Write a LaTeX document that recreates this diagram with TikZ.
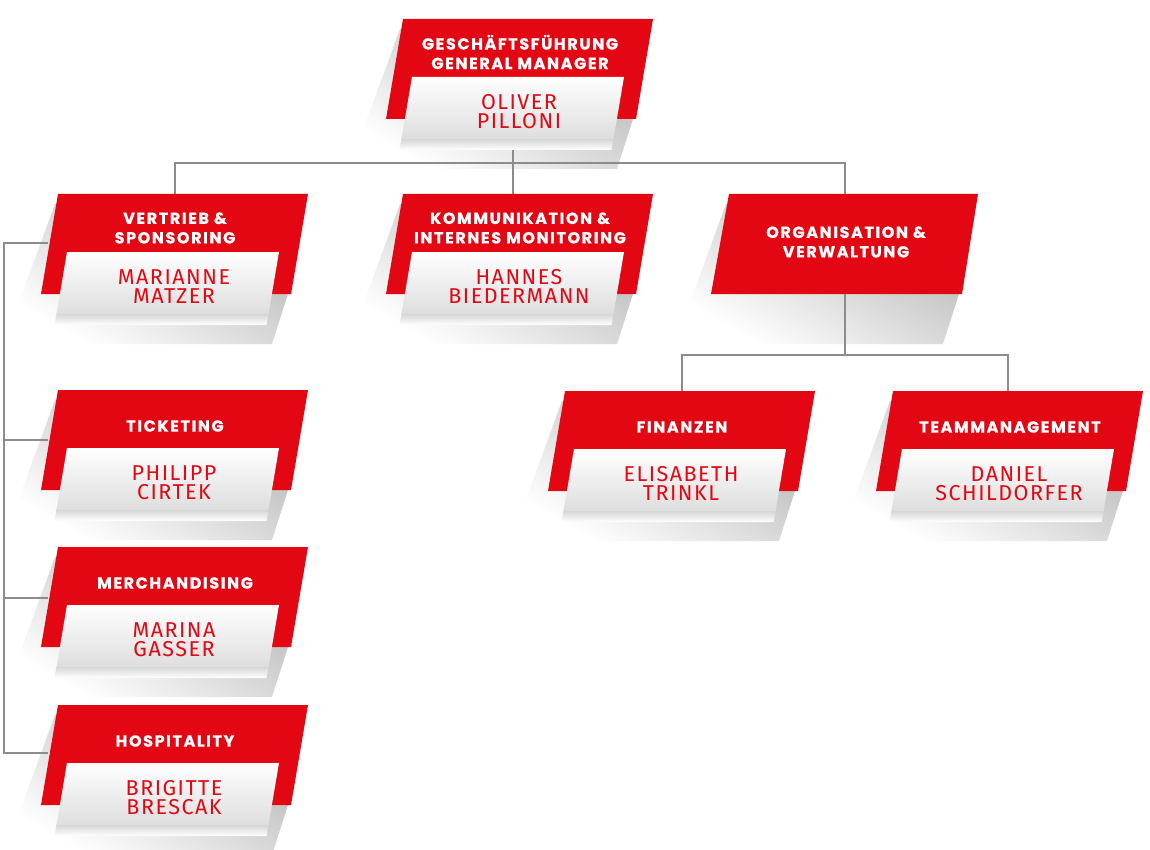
\documentclass[tikz,border=0pt]{standalone}
\usepackage{fontspec}
\setmainfont{Fira Sans}
\newfontfamily\headfont{Poppins}[LetterSpace=10, BoldFeatures={FakeBold=0.7}]
\newfontfamily\namefont{Fira Sans}[LetterSpace=7]
\usetikzlibrary{calc}
\pgfdeclarelayer{shadows}
\pgfdeclarelayer{lines}
\pgfsetlayers{shadows,lines,main}
\definecolor{ured}{HTML}{E30613}
\definecolor{uline}{HTML}{8C8C8C}
\tikzset{
  x=1pt, y=-1pt,
  headtext/.style={text=white, font=\headfont\bfseries\fontsize{16}{19.5}\selectfont, align=center, inner sep=0pt},
  nametext/.style={text=ured, font=\namefont\fontsize{21.5}{19.5}\selectfont, align=center, inner sep=0pt},
  conn/.style={draw=uline, line width=2.6pt},
  shadowfill/.style={top color=black!30, bottom color=white, shading angle=-30},
  whitefill/.style={top color=white, bottom color=black!13},
  undershadow/.style={top color=black!16, bottom color=white},
}
\newcommand\boxshadow{%
  \begin{pgfonlayer}{shadows}
    \shade[shadowfill] (-3,10) -- (-44,122) -- (-36,150) -- (214,150) -- (230,100) -- (240,8) -- cycle;
  \end{pgfonlayer}}
% #1 name, #2 x, #3 y, #4 header, #5 person, #6 header y
\newcommand\orgunit[6]{%
  \begin{scope}[shift={(#2,#3)}]
    \boxshadow
    \fill[ured] (0,0) -- (250,0) -- (233,100) -- (-17,100) -- cycle;
    \shade[undershadow] (-1.5,120) -- (210.5,120) -- (208.5,131) -- (-3.5,131) -- cycle;
    \shade[whitefill] (9,58) -- (221,58) -- (210.5,120) -- (-1.5,120) -- cycle;
    \node[headtext] (#1-h) at (117,#6) {#4};
    \node[nametext] (#1-p) at (116,92.5) {#5};
  \end{scope}}
\newcommand\orghead[4]{%
  \begin{scope}[shift={(#2,#3)}]
    \boxshadow
    \fill[ured] (0,0) -- (249,0) -- (233,100) -- (-18,100) -- cycle;
    \node[headtext] (#1-h) at (117,48) {#4};
  \end{scope}}
\begin{document}
\begin{tikzpicture}
\useasboundingbox (0,0) rectangle (1150,850);
\begin{pgfonlayer}{shadows}
\fill[white] (0,0) rectangle (1150,850);
\end{pgfonlayer}
% junction coordinates
\coordinate (j-top) at (513,163);
\coordinate (j-tl) at (175,163);
\coordinate (j-tr) at (845,163);
\coordinate (j-org) at (845,355);
\coordinate (j-fin) at (682,355);
\coordinate (j-team) at (1008,355);
\coordinate (v-top) at (4,243);
\coordinate (v-tick) at (4,440);
\coordinate (v-merch) at (4,598);
\coordinate (v-hosp) at (4,753);
\coordinate (gf-c) at (513,139);
\coordinate (ver-t) at (175,194);
\coordinate (kom-t) at (513,194);
\coordinate (org-t) at (845,194);
\coordinate (org-b) at (845,293);
\coordinate (fin-t) at (682,391);
\coordinate (team-t) at (1008,391);
\coordinate (ver-l) at (48,243);
\coordinate (tick-l) at (48,440);
\coordinate (merch-l) at (48,598);
\coordinate (hosp-l) at (48,753);
% connectors
\begin{pgfonlayer}{lines}
\draw[conn] (gf-c) -- (j-top);
\draw[conn] (ver-t) -- (j-tl) -- (j-tr) -- (org-t);
\draw[conn] (j-top) -- (kom-t);
\draw[conn] (org-b) -- (j-org);
\draw[conn] (fin-t) -- (j-fin) -- (j-team) -- (team-t);
\draw[conn] (ver-l) -- (v-top) -- (v-hosp) -- (hosp-l);
\draw[conn] (v-tick) -- (tick-l);
\draw[conn] (v-merch) -- (merch-l);
\end{pgfonlayer}
% boxes
\orgunit{gf}{403}{19}{GESCHÄFTSFÜHRUNG\\GENERAL MANAGER}{OLIVER\\PILLONI}{33}
\orgunit{ver}{58}{194}{VERTRIEB \&\\SPONSORING}{MARIANNE\\MATZER}{34}
\orgunit{kom}{403}{194}{KOMMUNIKATION \&\\INTERNES MONITORING}{HANNES\\BIEDERMANN}{34}
\orghead{org}{729}{194}{ORGANISATION \&\\VERWALTUNG}
\orgunit{tick}{58}{390}{TICKETING}{PHILIPP\\CIRTEK}{36}
\orgunit{merch}{58}{547}{MERCHANDISING}{MARINA\\GASSER}{36}
\orgunit{hosp}{58}{705}{HOSPITALITY}{BRIGITTE\\BRESCAK}{36}
\orgunit{fin}{565}{391}{FINANZEN}{ELISABETH\\TRINKL}{36}
\orgunit{team}{893}{391}{TEAMMANAGEMENT}{DANIEL\\SCHILDORFER}{36}
\end{tikzpicture}
\end{document}
